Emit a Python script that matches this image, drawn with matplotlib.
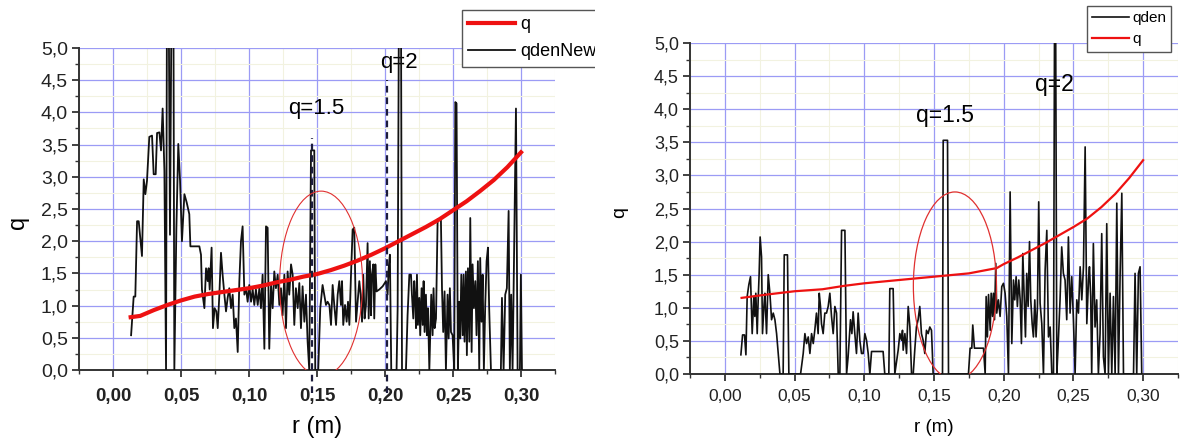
import matplotlib
matplotlib.use('Agg')
import matplotlib.pyplot as plt
from matplotlib.patches import Ellipse, Rectangle
from matplotlib.ticker import MultipleLocator, FuncFormatter

plt.rcParams['font.family'] = ['Liberation Sans', 'DejaVu Sans']

# ---- left panel: q profile and qdenNew ----
r_q_left = [0.013, 0.02, 0.03, 0.04, 0.05, 0.06, 0.07, 0.08, 0.09, 0.10, 0.11, 0.12,
            0.13, 0.14, 0.15, 0.16, 0.17, 0.18, 0.19, 0.20, 0.21, 0.22, 0.23, 0.24,
            0.25, 0.26, 0.27, 0.28, 0.29, 0.30]
q_left = [0.82, 0.84, 0.93, 1.01, 1.08, 1.14, 1.18, 1.21, 1.24, 1.27, 1.31, 1.36,
          1.40, 1.45, 1.49, 1.55, 1.62, 1.70, 1.79, 1.89, 2.00, 2.11, 2.22, 2.34,
          2.48, 2.62, 2.78, 2.95, 3.15, 3.38]

r_den_left = [
    0.0133, 0.0152, 0.0164, 0.0177, 0.0189, 0.0213, 0.0226, 0.0238, 0.0250, 0.0267,
    0.0287, 0.0299, 0.0314, 0.0324, 0.0341, 0.0353, 0.0365, 0.0378, 0.0390, 0.0397,
    0.0409, 0.0419, 0.0431, 0.0444, 0.0451, 0.0466, 0.0480, 0.0493, 0.0507, 0.0525,
    0.0542, 0.0561, 0.0569, 0.0635, 0.0647, 0.0654, 0.0672, 0.0684, 0.0696, 0.0703,
    0.0711, 0.0725, 0.0735, 0.0747, 0.0760, 0.0770, 0.0782, 0.0794, 0.0806, 0.0819,
    0.0831, 0.0843, 0.0855, 0.0868, 0.0880, 0.0892, 0.0904, 0.0917, 0.0929, 0.0941,
    0.0953, 0.0966, 0.0978, 0.0990, 0.1002, 0.1015, 0.1027, 0.1039, 0.1051, 0.1064,
    0.1076, 0.1088, 0.1100, 0.1113, 0.1125, 0.1137, 0.1149, 0.1162, 0.1174, 0.1186,
    0.1198, 0.1211, 0.1223, 0.1235, 0.1247, 0.1260, 0.1272, 0.1284, 0.1296, 0.1309,
    0.1321, 0.1333, 0.1345, 0.1358, 0.1370, 0.1382, 0.1394, 0.1407, 0.1419, 0.1431,
    0.1443, 0.1456, 0.1480, 0.1487, 0.1509, 0.1524, 0.1541, 0.1566, 0.1578, 0.1591,
    0.1603, 0.1615, 0.1627, 0.1640, 0.1652, 0.1664, 0.1676, 0.1684, 0.1693, 0.1706,
    0.1718, 0.1728, 0.1738, 0.1750, 0.1762, 0.1774, 0.1787, 0.1799, 0.1811, 0.1821,
    0.1831, 0.1840, 0.1850, 0.1860, 0.1872, 0.1880, 0.1889, 0.1897, 0.1904, 0.1914,
    0.1921, 0.1929, 0.1938, 0.1958, 0.1983, 0.2007, 0.2019, 0.2027, 0.2036, 0.2046,
    0.2085, 0.2093, 0.2103, 0.2117, 0.2125, 0.2154, 0.2166, 0.2179, 0.2191, 0.2198,
    0.2208, 0.2215, 0.2223, 0.2228, 0.2235, 0.2242, 0.2252, 0.2259, 0.2269, 0.2277,
    0.2284, 0.2291, 0.2301, 0.2308, 0.2316, 0.2326, 0.2333, 0.2340, 0.2350, 0.2357,
    0.2365, 0.2375, 0.2387, 0.2411, 0.2419, 0.2428, 0.2438, 0.2448, 0.2460, 0.2468,
    0.2477, 0.2485, 0.2497, 0.2509, 0.2517, 0.2526, 0.2536, 0.2546, 0.2553, 0.2561,
    0.2571, 0.2578, 0.2585, 0.2595, 0.2602, 0.2610, 0.2620, 0.2627, 0.2637, 0.2644,
    0.2654, 0.2664, 0.2673, 0.2683, 0.2693, 0.2700, 0.2710, 0.2718, 0.2727, 0.2737,
    0.2747, 0.2757, 0.2766, 0.2779, 0.2852, 0.2860, 0.2872, 0.2884, 0.2896, 0.2909,
    0.2918, 0.2928, 0.2938, 0.2950, 0.2963, 0.2975, 0.2992, 0.2999, 0.3007]
qden_left = [
    0.54, 1.14, 1.14, 2.31, 2.31, 1.77, 2.96, 2.73, 2.94, 3.62,
    3.64, 3.04, 3.04, 3.68, 3.69, 3.41, 4.06, 3.09, 0.00, 6.00,
    6.00, 2.10, 6.00, 6.00, 0.00, 2.20, 3.51, 2.94, 2.00, 2.73,
    2.60, 2.42, 1.92, 1.92, 1.79, 1.25, 0.96, 1.58, 1.38, 1.58,
    1.25, 1.90, 0.65, 0.96, 0.91, 0.65, 1.17, 1.82, 1.48, 1.17,
    0.91, 1.12, 1.27, 0.96, 1.17, 0.65, 0.80, 0.28, 1.38, 2.00,
    2.23, 1.17, 1.27, 1.06, 1.32, 1.06, 1.25, 1.01, 1.25, 1.01,
    1.27, 0.96, 1.48, 0.33, 2.23, 2.21, 0.33, 1.32, 0.96, 1.53,
    1.27, 1.48, 1.01, 1.27, 0.85, 1.48, 0.65, 1.53, 1.17, 1.64,
    1.48, 0.70, 1.27, 0.96, 1.35, 0.65, 1.30, 0.75, 1.17, 0.44,
    0.00, 3.41, 3.41, 0.00, 0.00, 0.96, 1.32, 1.01, 1.06, 1.01,
    0.70, 1.32, 1.01, 0.70, 1.17, 1.38, 1.01, 1.38, 0.70, 1.01,
    0.75, 1.06, 0.70, 1.48, 2.18, 2.21, 0.75, 1.06, 1.38, 1.17,
    0.75, 1.48, 0.80, 1.01, 1.97, 0.80, 1.69, 0.85, 1.48, 1.64,
    0.80, 1.64, 1.22, 1.25, 1.30, 1.38, 1.17, 1.58, 1.79, 0.00,
    0.00, 0.96, 6.00, 6.00, 0.00, 0.00, 0.85, 1.48, 1.48, 1.17,
    0.80, 1.38, 1.06, 0.65, 1.48, 0.70, 1.12, 0.54, 1.27, 0.70,
    1.38, 0.59, 1.17, 0.54, 0.96, 0.00, 0.59, 1.17, 0.54, 1.27,
    0.65, 0.80, 2.34, 2.36, 1.27, 0.59, 1.22, 0.00, 1.17, 0.49,
    1.27, 0.59, 0.54, 0.00, 4.16, 4.14, 0.00, 1.06, 0.49, 1.48,
    0.54, 1.48, 0.44, 1.53, 0.23, 1.58, 0.44, 2.36, 0.28, 1.64,
    0.96, 1.38, 0.54, 1.69, 0.00, 1.74, 0.75, 1.48, 0.00, 1.01,
    1.69, 1.90, 0.96, 0.00, 0.00, 1.12, 0.00, 1.17, 1.27, 2.47,
    0.00, 1.17, 0.00, 2.00, 4.06, 0.00, 0.00, 1.48, 0.00]

# ---- right panel: qden and q ----
r_q_right = [0.012, 0.03, 0.05, 0.07, 0.085, 0.10, 0.12, 0.15, 0.175, 0.195, 0.20,
             0.21, 0.22, 0.23, 0.24, 0.25, 0.26, 0.27, 0.28, 0.29, 0.30]
q_right = [1.15, 1.20, 1.25, 1.28, 1.33, 1.37, 1.41, 1.47, 1.52, 1.60, 1.66,
           1.76, 1.87, 1.98, 2.10, 2.22, 2.35, 2.52, 2.72, 2.96, 3.23]

r_den_right = [
    0.0115, 0.0127, 0.0141, 0.0151, 0.0160, 0.0172, 0.0184, 0.0196, 0.0208, 0.0215,
    0.0222, 0.0232, 0.0239, 0.0246, 0.0253, 0.0263, 0.0270, 0.0280, 0.0287, 0.0299,
    0.0311, 0.0323, 0.0335, 0.0347, 0.0359, 0.0371, 0.0383, 0.0395, 0.0418, 0.0426,
    0.0449, 0.0459, 0.0543, 0.0562, 0.0574, 0.0586, 0.0598, 0.0610, 0.0622, 0.0634,
    0.0645, 0.0657, 0.0669, 0.0677, 0.0686, 0.0693, 0.0705, 0.0717, 0.0729, 0.0741,
    0.0753, 0.0765, 0.0777, 0.0789, 0.0801, 0.0813, 0.0825, 0.0837, 0.0861, 0.0873,
    0.0884, 0.0901, 0.0911, 0.0920, 0.0932, 0.0944, 0.0956, 0.0968, 0.0980, 0.0992,
    0.1004, 0.1016, 0.1028, 0.1040, 0.1052, 0.1135, 0.1147, 0.1176, 0.1183, 0.1207,
    0.1219, 0.1243, 0.1255, 0.1267, 0.1274, 0.1279, 0.1291, 0.1303, 0.1315, 0.1327,
    0.1339, 0.1351, 0.1362, 0.1374, 0.1386, 0.1398, 0.1410, 0.1422, 0.1434, 0.1446,
    0.1458, 0.1470, 0.1482, 0.1494, 0.1561, 0.1566, 0.1597, 0.1604, 0.1747, 0.1759,
    0.1771, 0.1778, 0.1790, 0.1855, 0.1867, 0.1874, 0.1883, 0.1891, 0.1903, 0.1910,
    0.1920, 0.1926, 0.1934, 0.1943, 0.1950, 0.1962, 0.1974, 0.1986, 0.1998, 0.2010,
    0.2022, 0.2034, 0.2046, 0.2058, 0.2070, 0.2079, 0.2089, 0.2098, 0.2108, 0.2118,
    0.2127, 0.2137, 0.2146, 0.2156, 0.2165, 0.2175, 0.2185, 0.2194, 0.2204, 0.2213,
    0.2223, 0.2232, 0.2242, 0.2251, 0.2261, 0.2273, 0.2285, 0.2297, 0.2309, 0.2321,
    0.2333, 0.2345, 0.2357, 0.2364, 0.2373, 0.2381, 0.2392, 0.2404, 0.2416, 0.2428,
    0.2440, 0.2452, 0.2464, 0.2476, 0.2488, 0.2500, 0.2512, 0.2524, 0.2536, 0.2548,
    0.2560, 0.2572, 0.2584, 0.2596, 0.2608, 0.2615, 0.2624, 0.2631, 0.2643, 0.2655,
    0.2667, 0.2679, 0.2691, 0.2703, 0.2715, 0.2727, 0.2739, 0.2751, 0.2763, 0.2775,
    0.2787, 0.2799, 0.2811, 0.2823, 0.2835, 0.2847, 0.2859, 0.2931, 0.2942, 0.2954,
    0.2966, 0.2978, 0.2990]
qden_right = [
    0.29, 0.59, 0.59, 0.29, 1.17, 1.35, 1.47, 0.61, 1.17, 0.87,
    1.22, 0.61, 1.12, 1.52, 2.07, 1.77, 0.61, 1.02, 1.22, 0.61,
    1.50, 1.22, 0.82, 0.92, 0.82, 0.61, 0.31, 0.00, 0.00, 1.80,
    1.80, 0.00, 0.00, 0.31, 0.61, 0.46, 0.56, 0.31, 0.61, 0.46,
    0.66, 0.92, 0.61, 1.22, 1.02, 0.76, 0.61, 0.92, 0.92, 1.02,
    1.22, 0.87, 0.61, 1.02, 0.92, 0.00, 0.00, 2.17, 2.17, 0.00,
    0.26, 0.82, 0.61, 0.94, 0.61, 0.31, 0.92, 0.51, 0.31, 0.31,
    0.61, 0.51, 0.31, 0.00, 0.34, 0.34, 0.00, 0.00, 1.29, 1.29,
    0.00, 0.36, 0.61, 0.51, 0.66, 0.36, 0.61, 0.31, 1.02, 0.71,
    0.00, 0.00, 0.36, 0.71, 0.82, 1.02, 0.61, 0.51, 0.31, 0.66,
    0.61, 0.71, 0.66, 0.00, 0.00, 3.53, 3.53, 0.00, 0.00, 0.39,
    0.39, 0.74, 0.39, 0.39, 0.00, 1.17, 0.56, 1.20, 0.66, 1.22,
    0.87, 1.22, 0.82, 1.67, 0.92, 1.12, 0.87, 1.32, 1.37, 1.22,
    0.87, 0.00, 2.75, 0.46, 1.42, 1.12, 1.47, 1.02, 1.42, 1.12,
    0.46, 1.82, 1.22, 0.56, 1.52, 1.02, 2.00, 1.12, 0.76, 0.56,
    1.12, 0.56, 1.02, 2.60, 1.07, 0.76, 0.00, 1.57, 2.17, 0.56,
    0.71, 0.00, 0.00, 5.00, 5.00, 0.00, 0.51, 1.12, 1.92, 1.52,
    1.42, 0.82, 2.07, 0.92, 1.47, 0.82, 0.00, 1.12, 0.92, 1.62,
    1.12, 1.62, 3.43, 0.76, 1.42, 1.62, 1.17, 0.00, 1.97, 0.71,
    1.12, 0.00, 0.61, 2.12, 0.26, 0.00, 2.27, 0.00, 1.22, 0.00,
    1.17, 0.00, 2.58, 0.00, 1.52, 2.73, 0.00, 0.00, 1.52, 0.00,
    1.52, 1.62, 0.00]

W, H = 1180, 443
comma2 = FuncFormatter(lambda v, p: f'{v:.2f}'.replace('.', ','))
comma1 = FuncFormatter(lambda v, p: f'{v:.1f}'.replace('.', ','))


def style_axes(ax, xfs, yfs, xbold, xpad):
    ax.set_xlim(-0.025, 0.325)
    ax.set_ylim(0, 5)
    ax.xaxis.set_major_locator(MultipleLocator(0.05))
    ax.xaxis.set_minor_locator(MultipleLocator(0.025))
    ax.yaxis.set_major_locator(MultipleLocator(0.5))
    ax.yaxis.set_minor_locator(MultipleLocator(0.25))
    ax.xaxis.set_major_formatter(comma2)
    ax.yaxis.set_major_formatter(comma1)
    ax.grid(which='major', color='#9b9bf5', lw=0.9)
    ax.grid(which='minor', color='#f2f2e0', lw=0.8)
    ax.set_axisbelow(True)
    for s in ('top', 'right'):
        ax.spines[s].set_visible(False)
    for s in ('left', 'bottom'):
        ax.spines[s].set_color('#333333')
        ax.spines[s].set_linewidth(1.4)
    ax.tick_params(which='major', direction='out', length=5, width=1.3,
                   color='#333333', labelcolor='#222222', pad=3)
    ax.tick_params(which='minor', direction='out', length=3, width=1.0, color='#333333')
    ax.tick_params(axis='x', labelsize=xfs, pad=xpad)
    ax.tick_params(axis='y', labelsize=yfs)
    if xbold:
        for t in ax.get_xticklabels():
            t.set_fontweight('bold')


fig = plt.figure(figsize=(W / 100, H / 100), dpi=100)

# left panel
ax1 = fig.add_axes([79 / W, 1 - 370 / H, 476 / W, 322 / H])
style_axes(ax1, 13.5, 14, True, 8)
l_q, = ax1.plot(r_q_left, q_left, color='#ee1111', lw=3, zorder=4, label='q')
l_den, = ax1.plot(r_den_left, qden_left, color='#111111', lw=1.3, zorder=3, label='qdenNew')
for xv, ytop in [(0.146, 3.6), (0.2015, 4.5)]:
    ax1.plot([xv, xv], [-0.35, ytop], color='#1c1c3c', lw=1.6, ls=(0, (3, 2.2)),
             clip_on=False, zorder=5)
ax1.add_patch(Ellipse((0.153, 1.34), 0.061, 2.875, fill=False, ec='#e03030', lw=0.8, zorder=6))
ax1.text(0.1496, 4.06, 'q=1.5', fontsize=16, ha='center', va='center', zorder=6)
ax1.text(0.2105, 4.78, 'q=2', fontsize=16, ha='center', va='center', zorder=2)
leg1 = ax1.legend(handles=[l_q, l_den], loc='upper left',
                  bbox_to_anchor=(462 / W, 1 - 10 / H), bbox_transform=fig.transFigure,
                  borderaxespad=0, fancybox=False, edgecolor='#555555', framealpha=1,
                  fontsize=13, handlelength=2.6, handletextpad=0.25, borderpad=0.35,
                  labelspacing=0.55)
leg1.get_frame().set_linewidth(1.0)
fig.text(18 / W, 1 - 222 / H, 'q', rotation=90, fontsize=17, ha='center', va='center')
fig.text(317 / W, 1 - 427 / H, 'r (m)', fontsize=17, ha='center', va='center')

# right panel
ax2 = fig.add_axes([690 / W, 1 - 374 / H, 488 / W, 331 / H])
style_axes(ax2, 12.5, 13, False, 6)
r_den, = ax2.plot(r_den_right, qden_right, color='#111111', lw=1.2, zorder=3, label='qden')
r_q, = ax2.plot(r_q_right, q_right, color='#ee1111', lw=1.6, zorder=4, label='q')
ax2.add_patch(Ellipse((0.165, 1.33), 0.0596, 2.84, fill=False, ec='#e03030', lw=0.9, zorder=6))
ax2.text(0.158, 3.91, 'q=1.5', fontsize=16.5, ha='center', va='center', zorder=6)
ax2.text(0.236, 4.37, 'q=2', fontsize=16.5, ha='center', va='center', zorder=2)
leg2 = ax2.legend(handles=[r_den, r_q], loc='upper left',
                  bbox_to_anchor=(1087 / W, 1 - 6 / H), bbox_transform=fig.transFigure,
                  borderaxespad=0, fancybox=False, edgecolor='#555555', framealpha=1,
                  fontsize=11, handlelength=2.4, handletextpad=0.2, borderpad=0.35,
                  labelspacing=0.45)
leg2.get_frame().set_linewidth(1.0)
fig.text(620 / W, 1 - 213 / H, 'q', rotation=90, fontsize=14, ha='center', va='center')
fig.text(934 / W, 1 - 427 / H, 'r (m)', fontsize=13.5, ha='center', va='center')

# the left picture is cut at its right border, legend included
fig.patches.append(Rectangle((595 / W, 1 - 80 / H), 50 / W, 80 / H, transform=fig.transFigure,
                             facecolor='white', edgecolor='none', zorder=20))

fig.savefig('out.png', dpi=100, facecolor='white')
